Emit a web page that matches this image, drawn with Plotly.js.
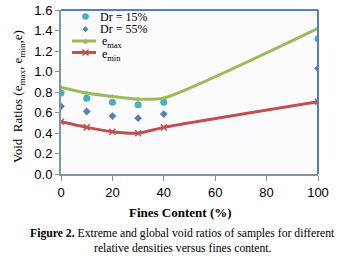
<!DOCTYPE html>
<html><head><meta charset="utf-8">
<script src="https://cdn.plot.ly/plotly-3.0.1.min.js"></script>
<style>html,body{margin:0;padding:0;background:#fff;}#c{width:363px;height:258px;}</style>
</head><body><div id="c"></div>
<script>
const finesContent = [0, 10, 20, 30, 40, 100];
const dr15 = [0.79, 0.74, 0.70, 0.675, 0.70, 1.32];
const dr55 = [0.66, 0.61, 0.565, 0.545, 0.585, 1.03];
const eMax = [0.845, 0.79, 0.755, 0.73, 0.74, 1.42];
const eMin = [0.51, 0.455, 0.413, 0.398, 0.455, 0.705];
const seriesNames = ['Dr = 15%', 'Dr = 55%', 'e<sub>max</sub>', 'e<sub>min</sub>'];
const xTicks = [0, 20, 40, 60, 80, 100];
const yTicks = [0, 0.2, 0.4, 0.6, 0.8, 1.0, 1.2, 1.4, 1.6];

const serif = "Liberation Serif, Times New Roman, serif";
const sans = "Liberation Sans, Arial, sans-serif";
const C15 = '#4bacc6', C55 = '#4f81bd', CMAX = '#9bbb59', CMIN = '#c0504d';

const traces = [
  {x: finesContent, y: dr15, name: seriesNames[0], mode: 'markers', type: 'scatter',
   marker: {symbol: 'circle', size: 7, color: C15}},
  {x: finesContent, y: dr55, name: seriesNames[1], mode: 'markers', type: 'scatter',
   marker: {symbol: 'diamond', size: 6, color: C55}},
  {x: finesContent, y: eMax, name: seriesNames[2], mode: 'lines+markers', type: 'scatter',
   line: {color: CMAX, width: 3, shape: 'spline', smoothing: 0.6},
   marker: {symbol: 'triangle-up', size: 5, color: CMAX}},
  {x: finesContent, y: eMin, name: seriesNames[3], mode: 'lines+markers', type: 'scatter',
   line: {color: CMIN, width: 3, shape: 'spline', smoothing: 0.6},
   marker: {symbol: 'x-thin-open', size: 6, color: CMIN, line: {color: CMIN, width: 1.5}}}
];

// plot-area geometry in pixels (for the hand-built legend only)
const L = 61, R = 318, T = 10, B = 174;
const px = v => (v - L) / (R - L);
const py = v => (B - v) / (B - T);

const shapes = [
  {type: 'line', xref: 'paper', yref: 'paper', x0: 0, x1: 1, y0: 1, y1: 1, line: {color: '#4f81bd', width: 2}},
  {type: 'line', xref: 'paper', yref: 'paper', x0: 1, x1: 1, y0: 0, y1: 1, line: {color: '#4f81bd', width: 2}}
];
// legend glyphs
const legendRows = [16.5, 29.3, 41, 52.5];
const mx = 85.5;
shapes.push({type: 'circle', xref: 'paper', yref: 'paper', x0: px(mx - 3.3), x1: px(mx + 3.3),
  y0: py(legendRows[0] + 3.3), y1: py(legendRows[0] - 3.3), fillcolor: C15, line: {width: 0}});
{
  const y = legendRows[1], r = 3;
  shapes.push({type: 'path', xref: 'paper', yref: 'paper',
    path: `M ${px(mx)} ${py(y - r)} L ${px(mx + r)} ${py(y)} L ${px(mx)} ${py(y + r)} L ${px(mx - r)} ${py(y)} Z`,
    fillcolor: C55, line: {width: 0}});
}
shapes.push({type: 'line', xref: 'paper', yref: 'paper', x0: px(72), x1: px(96),
  y0: py(legendRows[2]), y1: py(legendRows[2]), line: {color: CMAX, width: 3}});
{
  const y = legendRows[2], r = 2.5;
  shapes.push({type: 'path', xref: 'paper', yref: 'paper',
    path: `M ${px(mx - r)} ${py(y + r)} L ${px(mx + r)} ${py(y + r)} L ${px(mx)} ${py(y - r)} Z`,
    fillcolor: CMAX, line: {width: 0}});
}
shapes.push({type: 'line', xref: 'paper', yref: 'paper', x0: px(72), x1: px(96),
  y0: py(legendRows[3]), y1: py(legendRows[3]), line: {color: CMIN, width: 3}});
{
  const y = legendRows[3], r = 3;
  shapes.push({type: 'line', xref: 'paper', yref: 'paper', x0: px(mx - r), x1: px(mx + r),
    y0: py(y - r), y1: py(y + r), line: {color: CMIN, width: 1.5}});
  shapes.push({type: 'line', xref: 'paper', yref: 'paper', x0: px(mx - r), x1: px(mx + r),
    y0: py(y + r), y1: py(y - r), line: {color: CMIN, width: 1.5}});
}

const annotations = [
  {text: 'Void  Ratios (e<sub>max</sub>, e<sub>min</sub>,e)', textangle: -90, xref: 'paper', yref: 'paper',
   x: px(18), y: py(97), xanchor: 'center', yanchor: 'middle', showarrow: false,
   font: {family: serif, size: 13, color: '#000'}},
  {text: '<b>Fines Content (%)</b>', xref: 'paper', yref: 'paper', x: px(180.5), y: py(212),
   xanchor: 'center', yanchor: 'middle', showarrow: false, font: {family: serif, size: 13, color: '#000'}},
  {text: '<b>Figure 2.</b> Extreme and global void ratios of samples for different', xref: 'paper', yref: 'paper',
   x: px(182), y: py(233), xanchor: 'center', yanchor: 'middle', showarrow: false,
   font: {family: serif, size: 11.7, color: '#000'}},
  {text: 'relative densities versus fines content.', xref: 'paper', yref: 'paper',
   x: px(183), y: py(248), xanchor: 'center', yanchor: 'middle', showarrow: false,
   font: {family: serif, size: 11.7, color: '#000'}}
];
const textY = [16.5, 29.3, 42.5, 54.5];
seriesNames.forEach((n, i) => annotations.push({
  text: n, xref: 'paper', yref: 'paper', x: px(i < 2 ? 99 : 101), y: py(textY[i]),
  xanchor: 'left', yanchor: 'middle', showarrow: false, borderpad: 0,
  font: {family: serif, size: 12, color: '#000'}
}));

const layout = {
  width: 363, height: 258,
  margin: {l: L, r: 363 - R, t: T, b: 258 - B},
  paper_bgcolor: '#ffffff', plot_bgcolor: '#fbfbfe',
  showlegend: false,
  xaxis: {range: [0, 100], tickvals: xTicks, ticktext: xTicks.map(String),
          showgrid: false, zeroline: false, showline: true, linecolor: '#7f93ab', linewidth: 2,
          ticks: 'outside', ticklen: 5, tickcolor: '#7f93ab', tickwidth: 1,
          tickfont: {family: sans, size: 13, color: '#000'}},
  yaxis: {range: [0, 1.6], tickvals: yTicks, ticktext: yTicks.map(v => v.toFixed(1)),
          showgrid: false, zeroline: false, showline: true, linecolor: '#7f93ab', linewidth: 2,
          ticks: 'outside', ticklen: 4, tickcolor: '#7f93ab', tickwidth: 1,
          tickfont: {family: sans, size: 13, color: '#000'}},
  shapes, annotations
};
Plotly.newPlot('c', traces, layout, {displayModeBar: false, staticPlot: true});
</script></body></html>
